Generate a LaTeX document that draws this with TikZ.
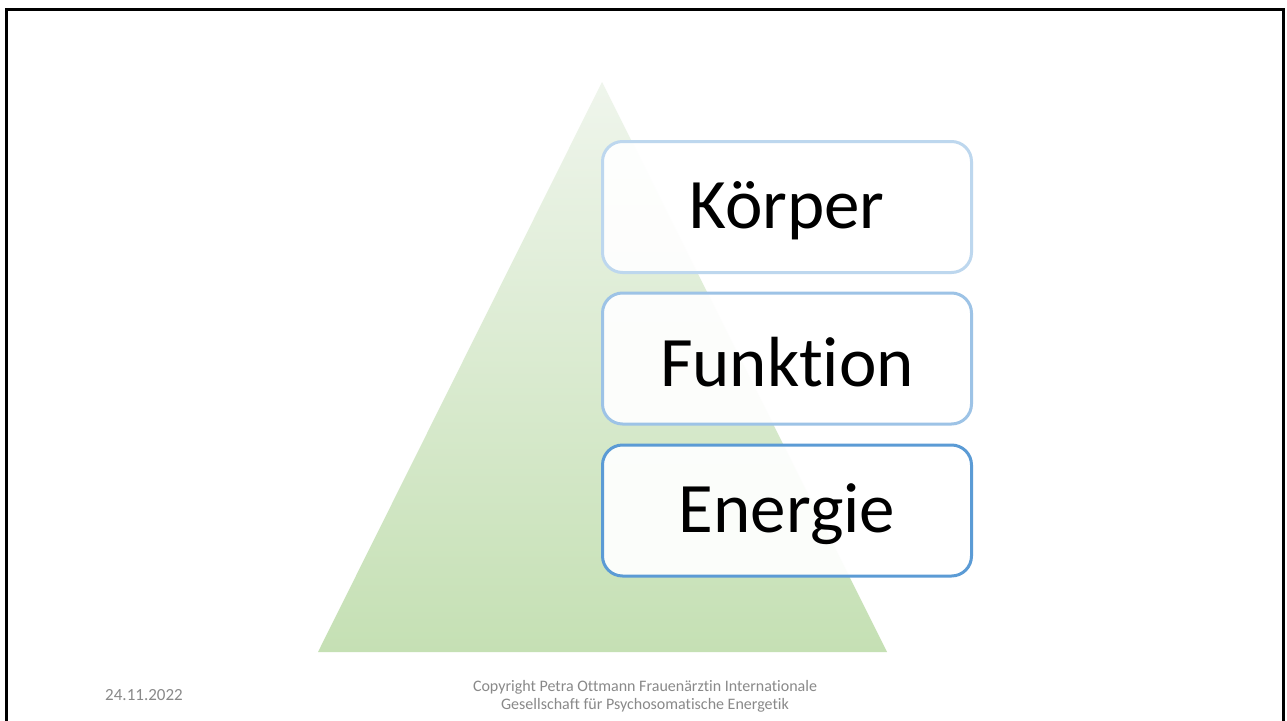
\documentclass[tikz,border=0pt]{standalone}
\usepackage{fontspec}
\setmainfont{Carlito}[Ligatures=NoCommon]
\definecolor{pyrtop}{HTML}{EFF5EC}
\definecolor{pyrbot}{HTML}{C5E0B4}
\definecolor{edgeone}{HTML}{BDD7EE}
\definecolor{edgetwo}{HTML}{9DC3E6}
\definecolor{edgethree}{HTML}{5B9BD5}
\definecolor{footgray}{HTML}{898989}

\newcommand{\lowtext}[1]{\raisebox{-4pt}[\height][\depth]{#1}}

\tikzset{
  levelbox/.style={draw, line width=3pt, rounded corners=20pt, fill=white, fill opacity=0.93,
    text opacity=1, minimum width=369pt, minimum height=131pt,
    font=\fontsize{71}{84}\selectfont},
  footnote/.style={text=footgray, font=\fontsize{16}{18}\selectfont, align=center}
}

\begin{document}
\begin{tikzpicture}[x=1pt,y=-1pt]

\useasboundingbox (0,0) rectangle (1287,720);
\fill[white] (0,0) rectangle (1287,720);

% slide frame
\draw[line width=3pt] (6,730) -- (6,9) -- (1283,9) -- (1283,730);

% pyramid
\shade[top color=pyrtop, bottom color=pyrbot] (318,652) -- (602,82) -- (887,652) -- cycle;

% levels
\node[levelbox, draw=edgeone] (koerper) at (787,207) {\lowtext{Körper}};
\node[levelbox, draw=edgetwo] (funktion) at (787,358.5) {\lowtext{Funktion}};
\node[levelbox, draw=edgethree] (energie) at (787,510.5) {\lowtext{Energie}};

% footer
\node[footnote, font=\fontsize{17}{18}\selectfont] (datum) at (144,695) {24.11.2022};
\node[footnote] (copyright) at (645,696) {Copyright Petra Ottmann Frauenärztin Internationale\\Gesellschaft für Psychosomatische Energetik};

\end{tikzpicture}
\end{document}
